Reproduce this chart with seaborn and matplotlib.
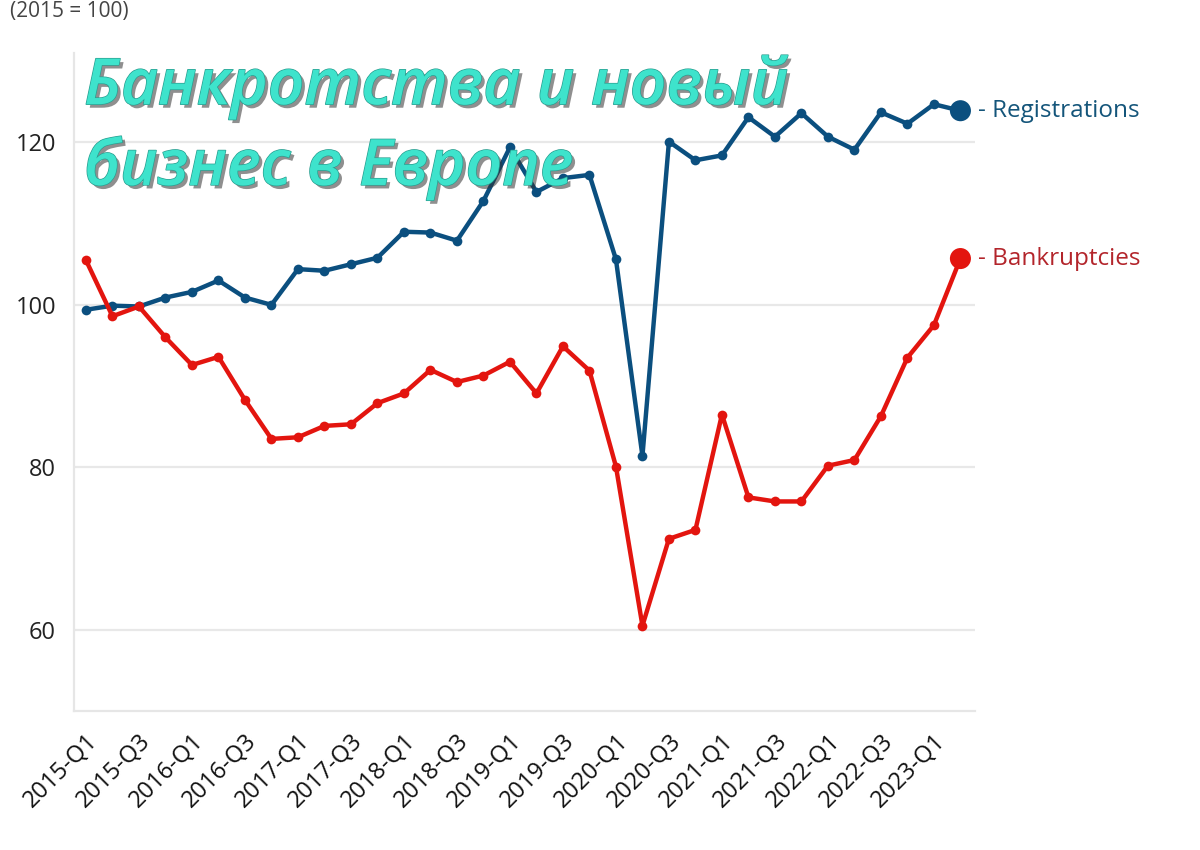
import matplotlib
matplotlib.use("Agg")
import matplotlib.pyplot as plt
import matplotlib.patheffects as pe
import seaborn as sns
import pandas as pd

# quarters 2015-Q1 .. 2023-Q2
quarters = [f"{y}-Q{q}" for y in range(2015, 2024) for q in range(1, 5)][:34]

registrations = [99.4, 99.9, 99.8, 100.9, 101.6, 103.0, 100.9, 100.0,
                 104.4, 104.2, 105.0, 105.8, 109.0, 108.9, 107.9, 112.8,
                 119.4, 113.9, 115.6, 116.0, 105.6, 81.4, 120.1, 117.8,
                 118.4, 123.1, 120.7, 123.6, 120.7, 119.1, 123.7, 122.3,
                 124.7, 123.9]

bankruptcies = [105.5, 98.6, 99.8, 96.0, 92.6, 93.6, 88.3, 83.5,
                83.7, 85.1, 85.3, 87.9, 89.1, 92.0, 90.5, 91.3,
                93.0, 89.1, 94.9, 91.9, 80.1, 60.5, 71.2, 72.3,
                86.5, 76.3, 75.8, 75.8, 80.2, 80.9, 86.3, 93.5,
                97.5, 105.7]

series_names = ["Registrations", "Bankruptcies"]
line_colors = {"Registrations": "#0b4f7f", "Bankruptcies": "#e3150f"}
text_colors = {"Registrations": "#14557a", "Bankruptcies": "#b3252b"}

df = pd.DataFrame({
    "idx": list(range(len(quarters))) * 2,
    "value": registrations + bankruptcies,
    "series": ["Registrations"] * len(quarters) + ["Bankruptcies"] * len(quarters),
})

sns.set_style("white")
plt.rcParams["font.family"] = ["Open Sans", "DejaVu Sans"]

fig = plt.figure(figsize=(12, 8.5), dpi=100)
ax = fig.add_axes([0.0617, 0.1635, 0.8125 - 0.0617, 0.9376 - 0.1635])

ax.grid(axis="y", color="#e8e8e8", linewidth=1.6, zorder=0)
ax.set_axisbelow(True)

sns.lineplot(data=df, x="idx", y="value", hue="series", palette=line_colors,
             linewidth=3.2, marker="o", markersize=7, markeredgewidth=0,
             legend=False, ax=ax, zorder=3)

# bigger end markers and direct labels
last = df[df["idx"] == len(quarters) - 1]
sns.scatterplot(data=last, x="idx", y="value", hue="series", palette=line_colors,
                s=230, edgecolor="none", legend=False, ax=ax, zorder=4)
for name in series_names:
    v = last.loc[last["series"] == name, "value"].iloc[0]
    ax.annotate("- " + name, xy=(len(quarters) - 1, v), xytext=(13, 0),
                textcoords="offset points", va="center", ha="left",
                fontsize=17.5, color=text_colors[name], annotation_clip=False)

ax.set_xlim(-0.45, len(quarters) - 0.45)
ax.set_ylim(50, 131)
ax.set_yticks([60, 80, 100, 120])
ax.set_xticks(range(len(quarters)))
ax.set_xticklabels([q if i % 2 == 0 else "" for i, q in enumerate(quarters)],
                   rotation=45, ha="right", rotation_mode="anchor")
ax.tick_params(axis="x", length=9, width=1.5, color="#e6e6e6", labelsize=17,
               labelcolor="#111111", pad=4)
ax.tick_params(axis="y", length=9, width=1.5, color="#e6e6e6", labelsize=17,
               labelcolor="#222222", pad=4)
ax.set_xlabel("")
ax.set_ylabel("")

for s in ["top", "right"]:
    ax.spines[s].set_visible(False)
for s in ["left", "bottom"]:
    ax.spines[s].set_color("#e6e6e6")
    ax.spines[s].set_linewidth(1.6)

fig.text(0.008, 1 - 12 / 850, "(2015 = 100)", fontsize=15, color="#444444",
         va="center", ha="left")

fig.text(0.07, 0.935, "Банкротства и новый\nбизнес в Европе", fontsize=46,
         color="#3ee3cc", style="italic", fontweight="semibold", va="top", ha="left",
         linespacing=1.35, zorder=10,
         path_effects=[pe.withSimplePatchShadow(offset=(2.5, -2.5), shadow_rgbFace="#333333", alpha=0.55),
                       pe.Stroke(linewidth=1.0, foreground="#2a9d8f"), pe.Normal()])

fig.savefig("out.png", dpi=100, facecolor="white")
